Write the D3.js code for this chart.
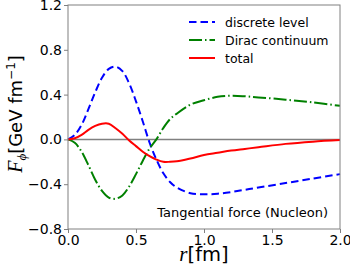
<!DOCTYPE html>
<html>
<head>
<meta charset="utf-8">
<script src="https://cdn.jsdelivr.net/npm/d3@7"></script>
<style>
  body { margin: 0; background: #fff; }
  text { font-family: "DejaVu Sans", sans-serif; }
</style>
</head>
<body>
<svg id="chart" width="350" height="266"></svg>
<script>
// radius values (fm)
const r = [0, 0.05, 0.1, 0.15, 0.2, 0.25, 0.3, 0.35, 0.4, 0.45, 0.5, 0.55, 0.6, 0.65, 0.7, 0.75, 0.8, 0.9, 1.0, 1.1, 1.2, 1.3, 1.4, 1.6, 1.8, 2.0];
const discrete = [0, 0.04, 0.13, 0.27, 0.42, 0.55, 0.63, 0.65, 0.61, 0.50, 0.34, 0.16, -0.03, -0.18, -0.30, -0.38, -0.43, -0.48, -0.49, -0.485, -0.47, -0.45, -0.43, -0.39, -0.35, -0.31];
const dirac = [0, -0.03, -0.11, -0.23, -0.36, -0.46, -0.52, -0.53, -0.50, -0.42, -0.31, -0.19, -0.08, 0.0, 0.10, 0.18, 0.23, 0.31, 0.35, 0.38, 0.39, 0.385, 0.375, 0.355, 0.33, 0.30];
const total = [0, 0.01, 0.04, 0.085, 0.12, 0.14, 0.14, 0.10, 0.05, -0.01, -0.06, -0.11, -0.15, -0.18, -0.20, -0.20, -0.195, -0.17, -0.14, -0.12, -0.10, -0.085, -0.07, -0.04, -0.02, -0.006];
const xTicks = [0, 0.5, 1.0, 1.5, 2.0];
const yTicks = [-0.8, -0.4, 0.0, 0.4, 0.8, 1.2];

const series = [
  { name: "discrete level", values: discrete, color: "#0000ff", dash: "7.5,4" },
  { name: "Dirac continuum", values: dirac, color: "#008000", dash: "13,3,1.5,3" },
  { name: "total", values: total, color: "#ff0000", dash: null }
];

const margin = { left: 68, right: 10, top: 5, bottom: 37 };
const W = 350, H = 266;
const svg = d3.select("#chart");

const x = d3.scaleLinear().domain([0, 2]).range([margin.left, W - margin.right]);
const y = d3.scaleLinear().domain([-0.8, 1.2]).range([H - margin.bottom, margin.top]);

// zero line
svg.append("line")
  .attr("x1", x(0)).attr("x2", x(2))
  .attr("y1", y(0)).attr("y2", y(0))
  .attr("stroke", "#808080").attr("stroke-width", 1.5);

const line = d3.line().curve(d3.curveCatmullRom)
  .x((d, i) => x(r[i])).y(d => y(d));

series.forEach(s => {
  svg.append("path")
    .datum(s.values)
    .attr("d", line)
    .attr("fill", "none")
    .attr("stroke", s.color)
    .attr("stroke-width", 2)
    .attr("stroke-dasharray", s.dash);
});

// axes
const xAxis = svg.append("g")
  .attr("transform", `translate(0,${H - margin.bottom})`)
  .call(d3.axisBottom(x).tickValues(xTicks).tickFormat(d3.format(".1f")).tickSize(4).tickPadding(1));
const yAxis = svg.append("g")
  .attr("transform", `translate(${margin.left},0)`)
  .call(d3.axisLeft(y).tickValues(yTicks).tickFormat(d => d3.format(".1f")(d).replace("-", "\u2212")).tickSize(4).tickPadding(2));
[xAxis, yAxis].forEach(a => {
  a.selectAll("text").attr("font-size", 14).attr("fill", "#000").style("font-family", "DejaVu Sans");
  a.selectAll("line").attr("stroke", "#808080");
  a.select(".domain").remove();
});
xAxis.selectAll("text").attr("dy", "0.8em");

// frame
svg.append("rect")
  .attr("x", x(0)).attr("y", y(1.2))
  .attr("width", x(2) - x(0)).attr("height", y(-0.8) - y(1.2))
  .attr("fill", "none").attr("stroke", "#808080").attr("stroke-width", 1);

// legend
const leg = svg.append("g");
series.forEach((s, i) => {
  const ly = 22 + i * 18;
  leg.append("line")
    .attr("x1", 189).attr("x2", 215).attr("y1", ly).attr("y2", ly)
    .attr("stroke", s.color).attr("stroke-width", 2)
    .attr("stroke-dasharray", s.dash);
  leg.append("text")
    .attr("x", 225).attr("y", ly + 4.5)
    .attr("font-size", 12.5).text(s.name);
});

svg.append("text")
  .attr("x", 328).attr("y", 217)
  .attr("text-anchor", "end").attr("font-size", 13)
  .text("Tangential force (Nucleon)");

// x label
const xl = svg.append("text")
  .attr("x", x(1)).attr("y", 261)
  .attr("text-anchor", "middle").attr("font-size", 19.5);
xl.append("tspan").attr("font-family", "Liberation Serif").attr("font-style", "italic").attr("font-size", 21).text("r");
xl.append("tspan").text("[fm]");

// y label
const yl = svg.append("text")
  .attr("transform", `translate(22,${y(0.2) - 3}) rotate(-90)`)
  .attr("text-anchor", "middle").attr("font-size", 18);
yl.append("tspan").attr("font-family", "Liberation Serif").attr("font-style", "italic").attr("font-size", 20).text("F");
yl.append("tspan").attr("font-family", "Liberation Serif").attr("font-style", "italic").attr("font-size", 13).attr("dy", 4).text("\u03d5");
yl.append("tspan").attr("dy", -4).text("[GeV fm");
yl.append("tspan").attr("font-size", 12).attr("dy", -7).text("\u22121");
yl.append("tspan").attr("dy", 7).text("]");
</script>
</body>
</html>
